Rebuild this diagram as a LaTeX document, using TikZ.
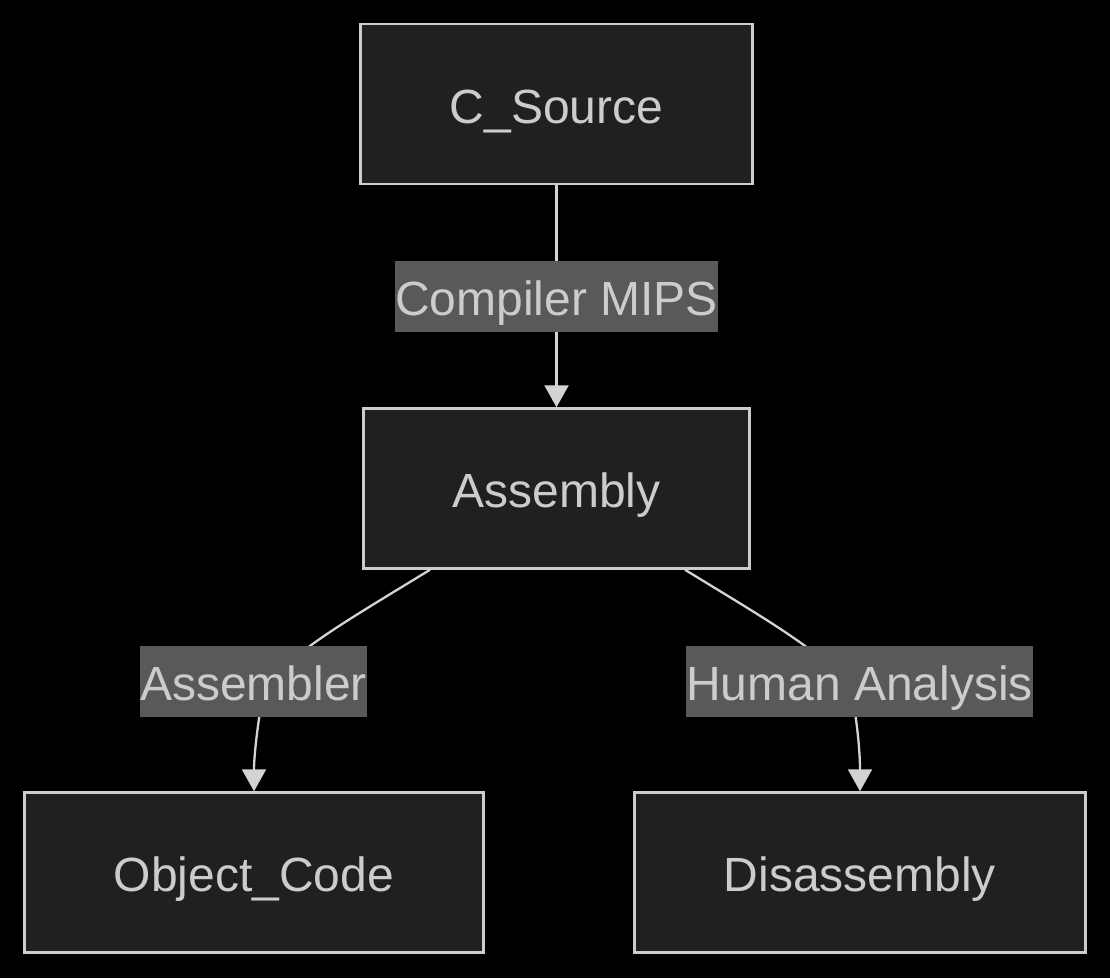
\documentclass[tikz,border=0pt]{standalone}
\usepackage{fontspec}
\setmainfont{Liberation Sans}
\usetikzlibrary{arrows.meta}
\definecolor{bg}{HTML}{000000}
\definecolor{boxfill}{HTML}{1F2020}
\definecolor{boxline}{HTML}{CCCCCC}
\definecolor{txt}{HTML}{CCCCCC}
\definecolor{lblfill}{HTML}{595959}
\definecolor{edge}{HTML}{D3D3D3}
\begin{document}
\begin{tikzpicture}[x=1pt,y=-1pt,
  font=\fontsize{48}{58}\selectfont,
  box/.style={draw=boxline, line width=2.5pt, fill=boxfill, text=txt, inner sep=0pt,
    minimum height=160pt, text height=38pt, text depth=0pt},
  lbl/.style={fill=lblfill, text=txt, inner sep=0pt, minimum height=71pt,
    text height=38pt, text depth=0pt},
  conn/.style={draw=edge, line width=2.3pt, -{Triangle[length=22pt,width=24pt]}}]
\fill[bg] (0,0) rectangle (1110,978);
\useasboundingbox (0,0) rectangle (1110,978);
\node[box, minimum width=392pt] (cs) at (556.5,104) {C\_Source};
\node[box, minimum width=386pt] (asm) at (556.5,488.5) {Assembly};
\node[box, minimum width=459pt] (obj) at (254,872.5) {Object\_Code};
\node[box, minimum width=451pt] (dis) at (860,872.5) {Disassembly};
\draw[conn] (cs.south) -- node[lbl, minimum width=321pt] (lc) {Compiler MIPS} (asm.north);
\draw[conn] ([xshift=-126.5pt]asm.south) .. controls (345,622) and (268,665) .. (262,700)
  .. controls (256,735) and (254,760) .. (obj.north);
\draw[conn] ([xshift=128.5pt]asm.south) .. controls (770,622) and (847,665) .. (853,700)
  .. controls (859,735) and (860,760) .. (dis.north);
\node[lbl, minimum width=225pt] (la) at (253.5,681) {Assembler};
\node[lbl, minimum width=345pt] (lh) at (859.5,681) {Human Analysis};
\end{tikzpicture}
\end{document}
